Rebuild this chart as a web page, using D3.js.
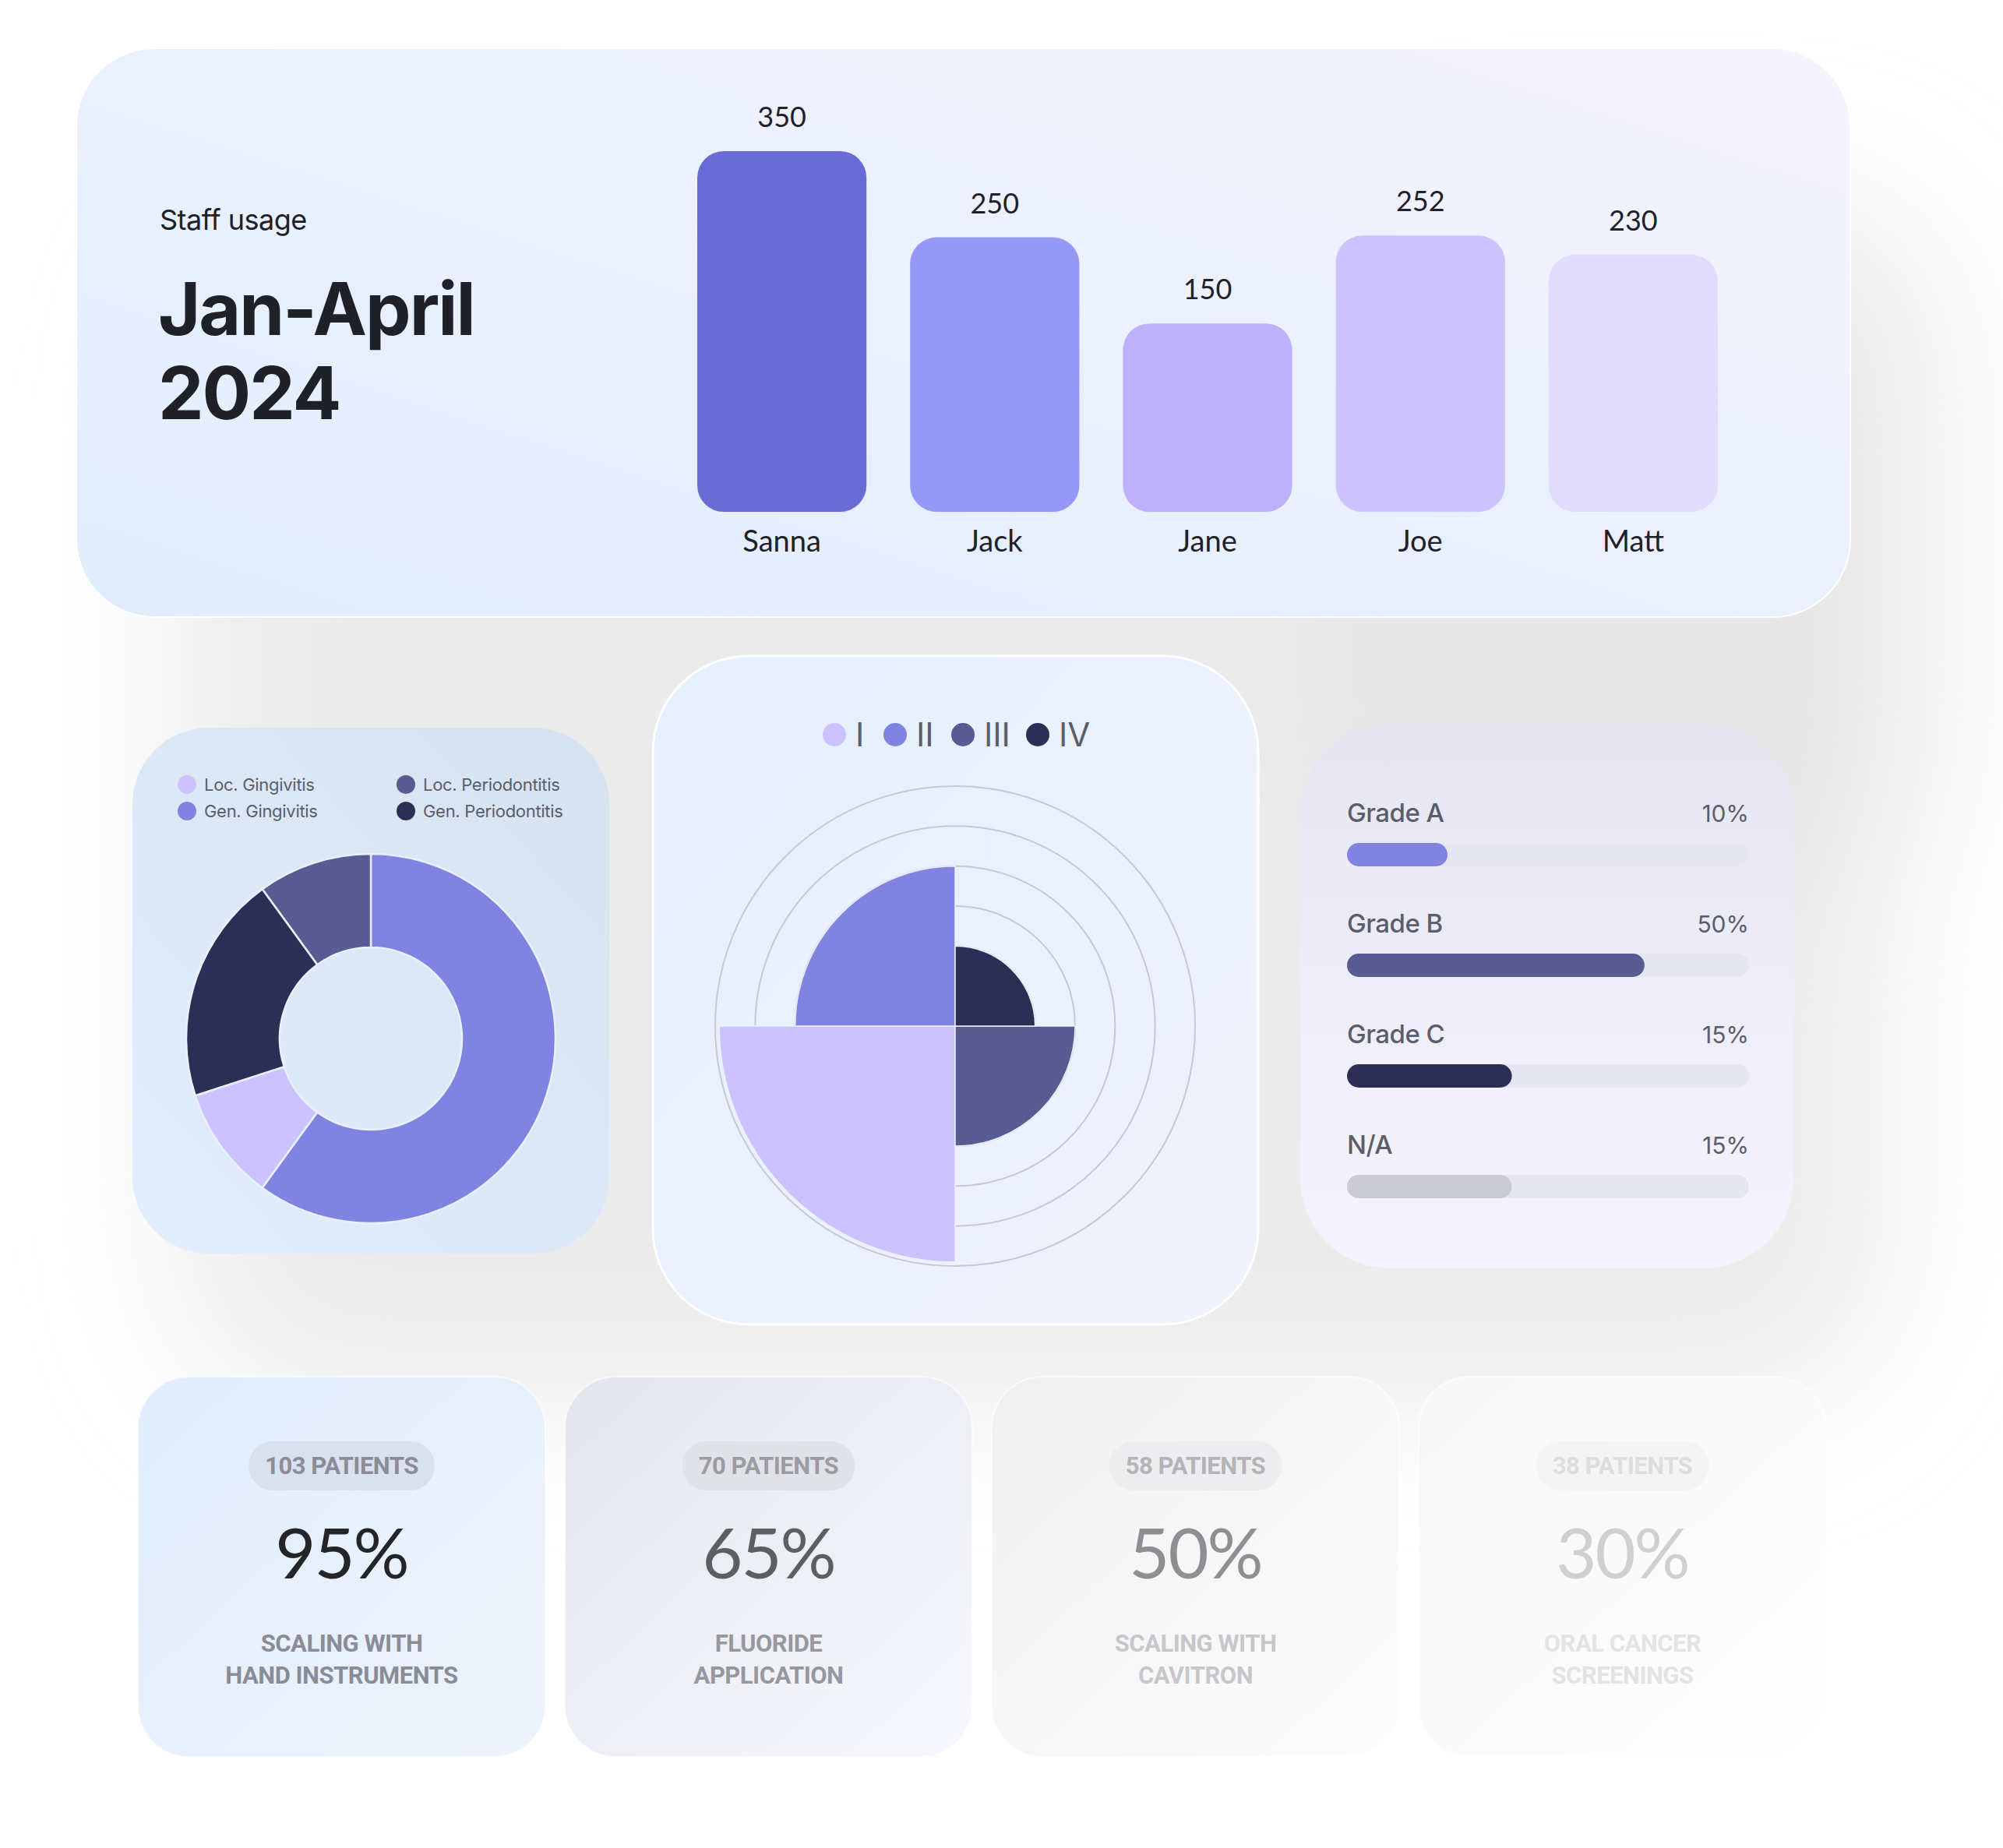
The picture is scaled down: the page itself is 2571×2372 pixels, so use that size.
<!DOCTYPE html>
<html>
<head>
<meta charset="utf-8">
<script src="https://cdn.jsdelivr.net/npm/d3@7"></script>
<style>
  html, body { margin: 0; padding: 0; background: #ffffff; }
  svg { display: block; }
</style>
</head>
<body>
<script>
// ---------------- DATA ----------------
const staffNames = ["Sanna", "Jack", "Jane", "Joe", "Matt"];
const staffValues = [350, 250, 150, 252, 230];
const staffTitle = "Staff usage";
const periodTitle = ["Jan-April", "2024"];

const donutLabels = ["Loc. Gingivitis", "Gen. Gingivitis", "Loc. Periodontitis", "Gen. Periodontitis"];
const donutValues = [10, 60, 10, 20];
const donutClockwiseOrder = ["Gen. Gingivitis", "Loc. Gingivitis", "Gen. Periodontitis", "Loc. Periodontitis"];

const stageLabels = ["I", "II", "III", "IV"];
const stageValues = [5.9, 4, 3, 2];
const stageClockwiseOrder = ["IV", "III", "I", "II"];
const stageRings = [1, 2, 3, 4, 5, 6];

const gradeLabels = ["Grade A", "Grade B", "Grade C", "N/A"];
const gradeTexts = ["10%", "50%", "15%", "15%"];
const gradeBarLengths = [25, 74, 41, 41];

const patientCounts = [103, 70, 58, 38];
const procedurePercents = [95, 65, 50, 30];
const procedureNames = [
  ["SCALING WITH", "HAND INSTRUMENTS"],
  ["FLUORIDE", "APPLICATION"],
  ["SCALING WITH", "CAVITRON"],
  ["ORAL CANCER", "SCREENINGS"]
];

// ---------------- STYLES ----------------
const staffColors = ["#696CD4", "#9698F5", "#BCB1FA", "#CDC4FE", "#E2DCFE"];
const donutColors = { "Loc. Gingivitis": "#CCC3FE", "Gen. Gingivitis": "#8083DF", "Loc. Periodontitis": "#595B93", "Gen. Periodontitis": "#2D2E55" };
const stageColors = { "I": "#CCC3FE", "II": "#8083DF", "III": "#595B93", "IV": "#2D2E55" };
const gradeColors = ["#8083DF", "#595B93", "#2D2E55", "#CBCBD8"];
const cardStyles = [
  { bg0: "#E0EDFD", bg1: "#EEF3FC", pill: "#D9E1EE", pillText: "#8A8C96", pct: "#232529", sub: "#8A8C96" },
  { bg0: "#E3E6EE", bg1: "#F7F8FD", pill: "#E0E2E8", pillText: "#9B9CA3", pct: "#5D5F63", sub: "#97989E" },
  { bg0: "#F0F0F2", bg1: "#FDFDFE", pill: "#EDEDEF", pillText: "#B3B4B7", pct: "#8E8F92", sub: "#C6C7CA" },
  { bg0: "#F6F6F7", bg1: "#FFFFFF", pill: "#F4F4F5", pillText: "#DDDDDF", pct: "#D0D0D2", sub: "#E3E3E5" }
];
const SANS = "Inter, 'Noto Sans', sans-serif";
const GEO = "Lato, 'Noto Sans', sans-serif";
const COND = "Roboto, 'Liberation Sans', sans-serif";

// ---------------- SVG ----------------
const W = 2571, H = 2372;
const svg = d3.select("body").append("svg").attr("width", W).attr("height", H);
const defs = svg.append("defs");

function lin(id, c0, c1, x1, y1, x2, y2) {
  const g = defs.append("linearGradient").attr("id", id)
    .attr("x1", x1).attr("y1", y1).attr("x2", x2).attr("y2", y2);
  g.append("stop").attr("offset", "0%").attr("stop-color", c0);
  g.append("stop").attr("offset", "100%").attr("stop-color", c1);
}
lin("gTop", "#E0EDFD", "#F5F3FE", "0%", "100%", "100%", "0%");
lin("gDonut", "#E2EEFD", "#D6E2F0", "0%", "100%", "100%", "0%");
lin("gPolar", "#E4EFFE", "#F1F2FD", "0%", "0%", "100%", "100%");
lin("gGrade", "#E6E6F2", "#F5F4FE", "0%", "0%", "0%", "100%");
cardStyles.forEach((s, i) => lin("gCard" + i, s.bg0, s.bg1, "0%", "0%", "100%", "100%"));

const blur = defs.append("filter").attr("id", "blurBig")
  .attr("x", "-50%").attr("y", "-50%").attr("width", "200%").attr("height", "200%");
blur.append("feGaussianBlur").attr("stdDeviation", 90);

// background shadows
const shadow = svg.append("g").attr("filter", "url(#blurBig)");
shadow.append("rect").attr("x", 230).attr("y", 300).attr("width", 2190).attr("height", 1500)
  .attr("rx", 200).attr("fill", "#E4E4E4").attr("opacity", 0.75);
shadow.append("rect").attr("x", 1700).attr("y", 250).attr("width", 800).attr("height", 900)
  .attr("rx", 200).attr("fill", "#E4E4E4").attr("opacity", 0.6);

// ---------------- TOP CARD: Staff usage ----------------
svg.append("rect").attr("x", 98).attr("y", 62).attr("width", 2277).attr("height", 730)
  .attr("rx", 100).attr("fill", "url(#gTop)").attr("stroke", "#ffffff").attr("stroke-width", 2);

svg.append("text").attr("x", 205).attr("y", 295).text(staffTitle)
  .attr("font-family", SANS).attr("font-size", 36).attr("fill", "#1F2128").attr("letter-spacing", -0.5);
svg.append("g").selectAll("text").data(periodTitle).join("text")
  .attr("x", 203).attr("y", (d, i) => 430 + i * 108).text(d => d)
  .attr("font-family", SANS).attr("font-weight", 700).attr("font-size", 93)
  .attr("fill", "#1F2128").attr("letter-spacing", -2);

const barBase = 657;
const xStaff = d3.scaleBand().domain(staffNames).range([895, 2205]).paddingInner(0.205).paddingOuter(0);
const yStaff = d3.scaleLinear().domain([0, 350]).range([barBase - 76, barBase - 463]);

const bars = svg.append("g");
bars.selectAll("rect").data(staffNames).join("rect")
  .attr("x", d => xStaff(d)).attr("width", xStaff.bandwidth())
  .attr("y", (d, i) => yStaff(staffValues[i])).attr("height", (d, i) => barBase - yStaff(staffValues[i]))
  .attr("rx", 34).attr("fill", (d, i) => staffColors[i]);
bars.selectAll("text.val").data(staffNames).join("text").attr("class", "val")
  .attr("x", d => xStaff(d) + xStaff.bandwidth() / 2)
  .attr("y", (d, i) => yStaff(staffValues[i]) - 31)
  .attr("text-anchor", "middle").text((d, i) => staffValues[i])
  .attr("font-family", GEO).attr("font-size", 36).attr("fill", "#1F2128");
bars.selectAll("text.cat").data(staffNames).join("text").attr("class", "cat")
  .attr("x", d => xStaff(d) + xStaff.bandwidth() / 2).attr("y", 708)
  .attr("text-anchor", "middle").text(d => d)
  .attr("font-family", GEO).attr("font-size", 38).attr("fill", "#1F2128");

// ---------------- DONUT CARD ----------------
svg.append("rect").attr("x", 170).attr("y", 934).attr("width", 612).attr("height", 675)
  .attr("rx", 98).attr("fill", "url(#gDonut)");

const legend = svg.append("g");
donutLabels.forEach((lab, i) => {
  const col = Math.floor(i / 2), row = i % 2;
  const cx = 240 + col * 281, cy = 1007 + row * 34;
  legend.append("circle").attr("cx", cx).attr("cy", cy).attr("r", 12).attr("fill", donutColors[lab]);
  legend.append("text").attr("x", cx + 22).attr("y", cy + 8).text(lab)
    .attr("font-family", SANS).attr("font-size", 22).attr("fill", "#5A5E6B").attr("letter-spacing", -0.3);
});

const pie = d3.pie().sort((a, b) => donutClockwiseOrder.indexOf(a.label) - donutClockwiseOrder.indexOf(b.label))
  .value(d => d.value);
const donutData = donutLabels.map((l, i) => ({ label: l, value: donutValues[i] }));
const arc = d3.arc().innerRadius(117).outerRadius(237);
svg.append("g").attr("transform", "translate(476,1333)")
  .selectAll("path").data(pie(donutData)).join("path")
  .attr("d", arc).attr("fill", d => donutColors[d.data.label])
  .attr("stroke", "#E8F0FB").attr("stroke-width", 2.5);

// ---------------- POLAR CARD ----------------
svg.append("rect").attr("x", 838).attr("y", 842).attr("width", 777).attr("height", 858)
  .attr("rx", 123).attr("fill", "url(#gPolar)").attr("stroke", "#ffffff").attr("stroke-width", 3);

const pLegX = [1071, 1149, 1236, 1332];
const pLeg = svg.append("g");
stageLabels.forEach((s, i) => {
  pLeg.append("circle").attr("cx", pLegX[i]).attr("cy", 943).attr("r", 15).attr("fill", stageColors[s]);
  pLeg.append("text").attr("x", pLegX[i] + 27).attr("y", 958).text(s)
    .attr("font-family", SANS).attr("font-size", 42).attr("fill", "#5A5E6B");
});

const pc = { x: 1226, y: 1317 };
const rScale = d3.scaleLinear().domain([0, 6]).range([0, 308]);
const angle = d3.scaleBand().domain(stageClockwiseOrder).range([0, 2 * Math.PI]);
const polar = svg.append("g").attr("transform", `translate(${pc.x},${pc.y})`);
polar.selectAll("circle").data(stageRings).join("circle")
  .attr("r", d => rScale(d)).attr("fill", "none").attr("stroke", "#C6C8D6").attr("stroke-width", 2);
const pArc = d3.arc().innerRadius(0);
polar.selectAll("path").data(stageLabels).join("path")
  .attr("d", (d, i) => pArc({ outerRadius: rScale(stageValues[i]), startAngle: angle(d), endAngle: angle(d) + angle.bandwidth() }))
  .attr("fill", d => stageColors[d]).attr("stroke", "#EDF1FC").attr("stroke-width", 1.5);

// ---------------- GRADE CARD ----------------
svg.append("rect").attr("x", 1669).attr("y", 929).attr("width", 633).attr("height", 699)
  .attr("rx", 115).attr("fill", "url(#gGrade)");

const xGrade = d3.scaleLinear().domain([0, 100]).range([1729, 2245]);
const gG = svg.append("g");
gradeLabels.forEach((g, i) => {
  const base = 1055 + i * 142;
  gG.append("text").attr("x", 1729).attr("y", base).text(g)
    .attr("font-family", SANS).attr("font-weight", 500).attr("font-size", 33)
    .attr("fill", "#5A5E6B").attr("letter-spacing", -0.5);
  gG.append("text").attr("x", 2245).attr("y", base).attr("text-anchor", "end").text(gradeTexts[i])
    .attr("font-family", SANS).attr("font-size", 30).attr("fill", "#5A5E6B");
  gG.append("rect").attr("x", xGrade(0)).attr("y", base + 27).attr("width", xGrade(100) - xGrade(0))
    .attr("height", 30).attr("rx", 15).attr("fill", "#E6E6F3");
  gG.append("rect").attr("x", xGrade(0)).attr("y", base + 27).attr("width", xGrade(gradeBarLengths[i]) - xGrade(0))
    .attr("height", 30).attr("rx", 15).attr("fill", gradeColors[i]);
});

// ---------------- BOTTOM CARDS ----------------
patientCounts.forEach((n, i) => {
  const s = cardStyles[i];
  const x0 = 177 + i * 548, cx = x0 + 261.5;
  const g = svg.append("g");
  g.append("rect").attr("x", x0).attr("y", 1767).attr("width", 523).attr("height", 488)
    .attr("rx", 66).attr("fill", `url(#gCard${i})`).attr("stroke", "#ffffff").attr("stroke-opacity", 0.6).attr("stroke-width", 2);
  const pill = g.append("rect").attr("y", 1850).attr("height", 63).attr("rx", 31).attr("fill", s.pill);
  const t = g.append("text").attr("x", cx).attr("y", 1892).attr("text-anchor", "middle")
    .text(`${n} PATIENTS`).attr("font-family", COND).attr("font-weight", 700)
    .attr("font-size", 31).attr("fill", s.pillText).attr("letter-spacing", -0.5);
  const tw = t.node().getComputedTextLength();
  pill.attr("x", cx - tw / 2 - 21).attr("width", tw + 42);
  g.append("text").attr("x", cx).attr("y", 2026).attr("text-anchor", "middle")
    .text(`${procedurePercents[i]}%`).attr("font-family", GEO).attr("font-size", 90)
    .attr("fill", s.pct).attr("letter-spacing", -2);
  procedureNames[i].forEach((line, j) => {
    g.append("text").attr("x", cx).attr("y", 2120 + j * 41).attr("text-anchor", "middle")
      .text(line).attr("font-family", COND).attr("font-weight", 700)
      .attr("font-size", 31).attr("fill", s.sub).attr("letter-spacing", -0.5);
  });
});
</script>
</body>
</html>
